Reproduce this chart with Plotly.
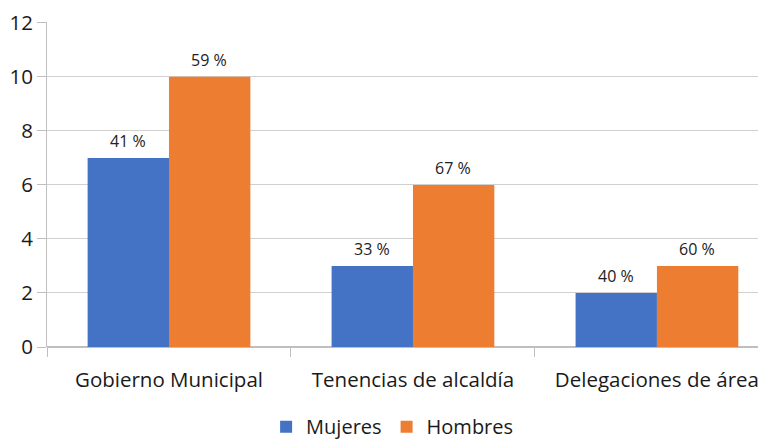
import plotly.graph_objects as go

categories = ["Gobierno Municipal", "Tenencias de alcaldía", "Delegaciones de área"]
mujeres = [7, 3, 2]
hombres = [10, 6, 3]
mujeres_pct = ["41 %", "33 %", "40 %"]
hombres_pct = ["59 %", "67 %", "60 %"]
y_ticks = [0, 2, 4, 6, 8, 10, 12]

font = "Open Sans"
fig = go.Figure()
fig.add_trace(go.Bar(name="Mujeres", x=categories, y=mujeres, marker_color="#4472C4",
                     marker_line_width=0, offsetgroup="m"))
fig.add_trace(go.Bar(name="Hombres", x=categories, y=hombres, marker_color="#ED7D31",
                     marker_line_width=0, offsetgroup="h"))

for i, c in enumerate(categories):
    fig.add_annotation(x=i, y=mujeres[i], text=mujeres_pct[i], xshift=-40.5, yshift=17,
                       showarrow=False, yanchor="middle", font=dict(size=16, color="#222"))
    fig.add_annotation(x=i, y=hombres[i], text=hombres_pct[i], xshift=40.5, yshift=17,
                       showarrow=False, yanchor="middle", font=dict(size=16, color="#222"))

# page body adds an 8px offset; figure is sized to fill the rest of the window
fig.update_layout(
    width=758, height=433,
    margin=dict(l=39, r=0, t=14, b=94, autoexpand=False),
    paper_bgcolor="white", plot_bgcolor="white",
    barmode="group", bargap=0.333, bargroupgap=0,
    font=dict(family=font, size=20, color="#1a1a1a"),
    showlegend=True,
    legend=dict(orientation="h", x=0.48, xanchor="center", y=-0.245, yanchor="middle",
                font=dict(size=20), itemwidth=30, traceorder="normal"),
)
fig.update_xaxes(
    range=[-0.5, 2.447], showline=False, ticks="outside", tickson="boundaries",
    ticklen=9, tickcolor="#bfbfbf", showgrid=False, tickfont=dict(size=20.5),
    automargin=False, ticklabelstandoff=18,
)
fig.update_yaxes(
    range=[0, 12.03], tickmode="array", tickvals=y_ticks, showline=True,
    linecolor="#bfbfbf", linewidth=1,
    gridcolor="#d0d0d0", gridwidth=1, ticks="outside", ticklen=9, tickcolor="#bfbfbf",
    zeroline=True, zerolinecolor="#bfbfbf", tickfont=dict(size=20.5), automargin=False,
    ticklabelstandoff=0, ticklabeloverflow="allow",
)
fig.write_html("out.html")
